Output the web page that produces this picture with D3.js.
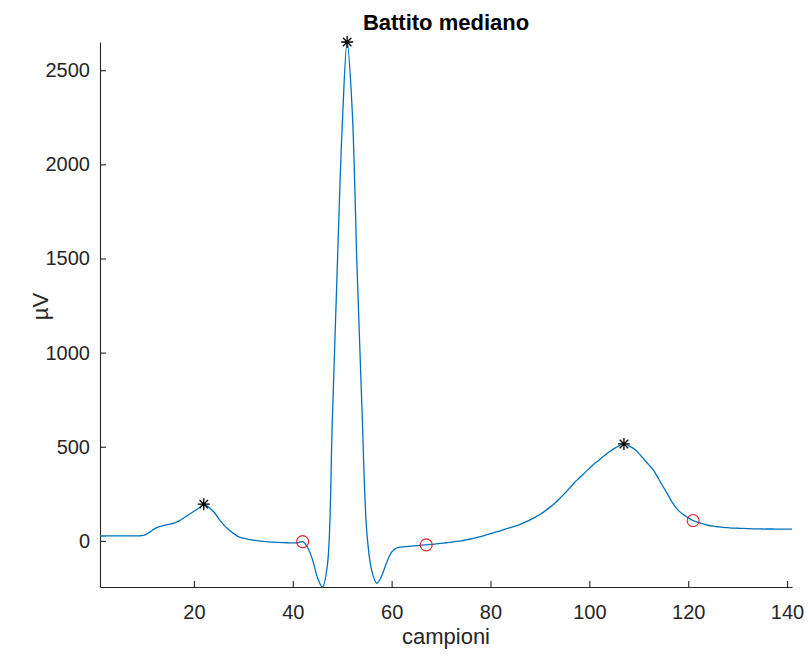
<!DOCTYPE html>
<html>
<head>
<meta charset="utf-8">
<script src="https://d3js.org/d3.v7.min.js"></script>
<style>
    body { margin: 0; background: #fff; }
    text { font-family: "Liberation Sans", Arial, sans-serif; fill: #262626; }
</style>
</head>
<body>
<script>

// campioni del battito mediano (uV)
const samples = d3.range(1, 142);
const beat = [
    26, 26, 27, 27, 27, 27, 27, 27, 27, 30,      // 1-10
    45, 64, 76, 82, 88, 94, 106, 123, 140, 157,  // 11-20
    175, 195, 178, 155, 118, 86, 60, 40, 23, 14, // 21-30
    8, 4, 0, -3, -5, -7, -8, -9, -10, -11,       // 31-40
    -10, -4, -35, -100, -195, -245, -130, 640, 1450, 2200, // 41-50
    2650, 2300, 1450, 700, 40, -160, -225, -185, -115, -60, // 51-60
    -38, -32, -30, -28, -25, -23, -21, -19, -16, -13,      // 61-70
    -10, -7, -3, 0, 5, 10, 16, 23, 30, 38,       // 71-80
    46, 53, 62, 70, 78, 88, 100, 112, 125, 140,  // 81-90
    158, 178, 200, 225, 252, 280, 310, 335, 360, 385, // 91-100
    410, 430, 452, 472, 490, 505, 515, 505, 490, 465, // 101-110
    435, 405, 375, 330, 285, 240, 195, 162, 140, 122, // 111-120
    108, 98, 90, 83, 78, 75, 72, 70, 68, 67,     // 121-130
    66, 65, 64, 64, 63, 63, 63, 62, 62, 62,      // 131-140
    62                                           // 141
];

// picchi (asterischi) e limiti delle onde (cerchi), come indici di campione
const peakIdx = [22, 51, 107];
const boundIdx = [42, 67, 121];

const xTicks = [20, 40, 60, 80, 100, 120, 140];
const yTicks = [0, 500, 1000, 1500, 2000, 2500];

const WIDTH = 809;
const HEIGHT = 659;
const MARGIN = {
    TOP : 42,
    BOTTOM : 72,
    LEFT : 100,
    RIGHT : 17,
};

var svg = d3.select("body").append("svg")
    .attr("width", WIDTH)
    .attr("height", HEIGHT);

const x = d3.scaleLinear()
    .domain(d3.extent(samples))
    .range([MARGIN.LEFT, WIDTH - MARGIN.RIGHT]);

const y = d3.scaleLinear()
    .domain(d3.extent(beat))
    .range([HEIGHT - MARGIN.BOTTOM, MARGIN.TOP]);

const data = samples.map((s, i) => ({ s: s, v: beat[i] }));

// axes (ticks pointing inward, as in matlab)
const xAxis = svg.append("g")
    .attr("transform", `translate(0, ${HEIGHT - MARGIN.BOTTOM})`)
    .call(d3.axisBottom(x).tickValues(xTicks).tickFormat(d3.format("d"))
        .tickSizeInner(-6).tickSizeOuter(0).tickPadding(18));

const yAxis = svg.append("g")
    .attr("transform", `translate(${MARGIN.LEFT}, 0)`)
    .call(d3.axisLeft(y).tickValues(yTicks).tickFormat(d3.format("d"))
        .tickSizeInner(-6).tickSizeOuter(0).tickPadding(10));

[xAxis, yAxis].forEach(function(g) {
    g.select(".domain").attr("stroke", "#262626").attr("stroke-width", 1.1);
    g.selectAll(".tick line").attr("stroke", "#262626").attr("stroke-width", 1.1);
    g.selectAll(".tick text")
        .attr("fill", "#262626")
        .style("font-family", "'Liberation Sans', Arial, sans-serif")
        .style("font-size", "20px");
});

// curve (clipped to the plot box)
svg.append("clipPath")
    .attr("id", "box")
    .append("rect")
    .attr("x", MARGIN.LEFT)
    .attr("y", MARGIN.TOP - 2)
    .attr("width", WIDTH - MARGIN.LEFT - MARGIN.RIGHT)
    .attr("height", HEIGHT - MARGIN.TOP - MARGIN.BOTTOM + 2);

const line = d3.line()
    .x(d => x(d.s))
    .y(d => y(d.v))
    .curve(d3.curveCatmullRom.alpha(0.5));

svg.append("path")
    .datum(data)
    .attr("d", line)
    .attr("clip-path", "url(#box)")
    .attr("fill", "none")
    .attr("stroke", "#0072BD")
    .attr("stroke-width", 1.3)
    .attr("stroke-linejoin", "round");

// asterisks
const star = function(r) {
    const p = d3.path();
    const q = r * Math.SQRT1_2;
    p.moveTo(-r, 0); p.lineTo(r, 0);
    p.moveTo(0, -r); p.lineTo(0, r);
    p.moveTo(-q, -q); p.lineTo(q, q);
    p.moveTo(-q, q); p.lineTo(q, -q);
    return p.toString();
};

svg.append("g")
    .selectAll("path")
    .data(peakIdx.map(i => data[i - 1]))
    .enter()
    .append("path")
    .attr("transform", d => `translate(${x(d.s)}, ${y(d.v)})`)
    .attr("d", star(6))
    .attr("fill", "none")
    .attr("stroke", "#000")
    .attr("stroke-width", 1.3);

// circles
svg.append("g")
    .selectAll("circle")
    .data(boundIdx.map(i => data[i - 1]))
    .enter()
    .append("circle")
    .attr("cx", d => x(d.s))
    .attr("cy", d => y(d.v))
    .attr("r", 6)
    .attr("fill", "none")
    .attr("stroke", "#e0202a")
    .attr("stroke-width", 1.1);

// labels
svg.append("text")
    .attr("x", (MARGIN.LEFT + WIDTH - MARGIN.RIGHT) / 2)
    .attr("y", 30)
    .attr("text-anchor", "middle")
    .style("font-size", "22px")
    .style("font-weight", "bold")
    .style("fill", "#000")
    .text("Battito mediano");

svg.append("text")
    .attr("x", (MARGIN.LEFT + WIDTH - MARGIN.RIGHT) / 2)
    .attr("y", 644)
    .attr("text-anchor", "middle")
    .style("font-size", "22px")
    .text("campioni");

svg.append("text")
    .attr("transform", `translate(48, ${(MARGIN.TOP + HEIGHT - MARGIN.BOTTOM) / 2 - 8}) rotate(-90)`)
    .attr("text-anchor", "middle")
    .style("font-size", "22px")
    .text("µV");

</script>
</body>
</html>
